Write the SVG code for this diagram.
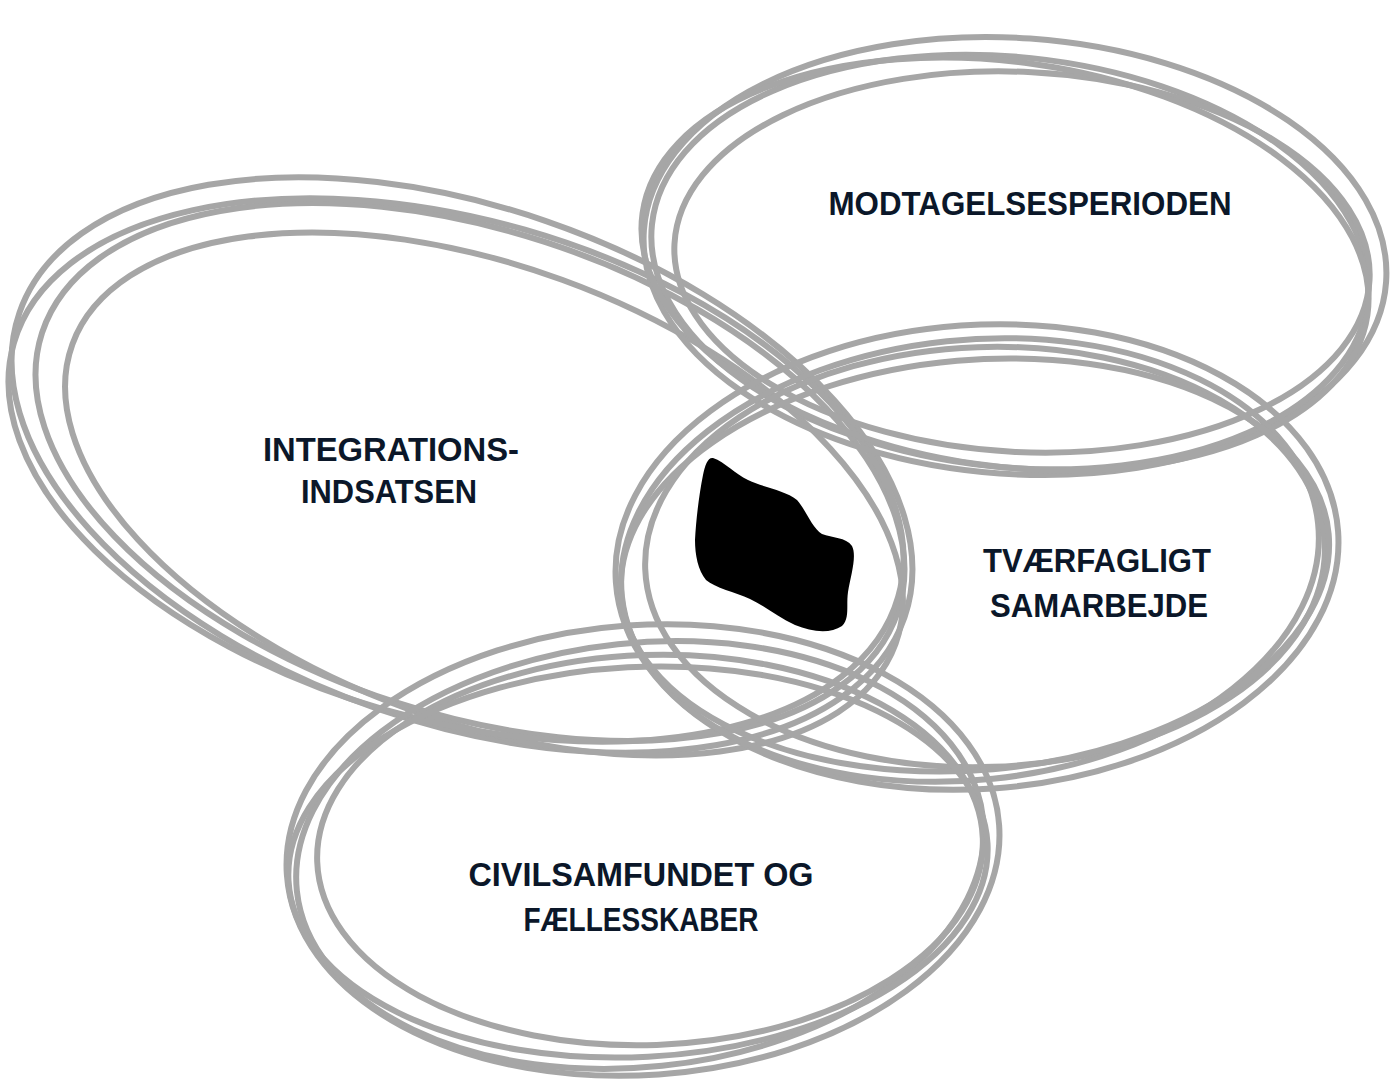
<svg xmlns="http://www.w3.org/2000/svg" width="1390" height="1085" viewBox="0 0 1390 1085">
<style>
.ring{fill:none;stroke:#a6a6a6;stroke-width:6}
.lbl{font-family:"Liberation Sans","Arial",sans-serif;font-weight:bold;font-size:34px;fill:#0b1729;text-anchor:middle}
</style>
<rect width="1390" height="1085" fill="#ffffff"/>
<g id="connectors">
<g id="rings-integration">
<ellipse class="ring" cx="462" cy="465" rx="468" ry="258" transform="rotate(19 462 465)"/>
<ellipse class="ring" cx="470" cy="472" rx="450" ry="242" transform="rotate(18 470 472)"/>
<ellipse class="ring" cx="484" cy="494" rx="438" ry="228" transform="rotate(20 484 494)"/>
<ellipse class="ring" cx="456" cy="470" rx="460" ry="250" transform="rotate(16 456 470)"/>
</g>
<g id="rings-modtagelse">
<ellipse class="ring" cx="1015" cy="256" rx="372" ry="218" transform="rotate(4 1015 256)"/>
<ellipse class="ring" cx="1010" cy="262" rx="360" ry="205" transform="rotate(6 1010 262)"/>
<ellipse class="ring" cx="1022" cy="262" rx="348" ry="190" transform="rotate(3 1022 262)"/>
<ellipse class="ring" cx="1005" cy="264" rx="366" ry="202" transform="rotate(8 1005 264)"/>
</g>
<g id="rings-tvaerfagligt">
<ellipse class="ring" cx="977" cy="557" rx="362" ry="232" transform="rotate(-4 977 557)"/>
<ellipse class="ring" cx="970" cy="560" rx="350" ry="220" transform="rotate(-6 970 560)"/>
<ellipse class="ring" cx="985" cy="557" rx="340" ry="210" transform="rotate(-2 985 557)"/>
<ellipse class="ring" cx="975" cy="565" rx="355" ry="205" transform="rotate(-5 975 565)"/>
</g>
<g id="rings-civil">
<ellipse class="ring" cx="643" cy="850" rx="357" ry="225" transform="rotate(-4 643 850)"/>
<ellipse class="ring" cx="640" cy="855" rx="345" ry="212" transform="rotate(-6 640 855)"/>
<ellipse class="ring" cx="650" cy="850" rx="333" ry="195" transform="rotate(-2 650 850)"/>
<ellipse class="ring" cx="638" cy="862" rx="350" ry="195" transform="rotate(-3 638 862)"/>
</g>
</g>
<g id="node-integration">
<text class="lbl" x="391" y="461" textLength="256" lengthAdjust="spacingAndGlyphs">INTEGRATIONS-</text>
<text class="lbl" x="389" y="503" textLength="176" lengthAdjust="spacingAndGlyphs">INDSATSEN</text>
</g>
<g id="node-modtagelse">
<text class="lbl" x="1030" y="215" textLength="403" lengthAdjust="spacingAndGlyphs">MODTAGELSESPERIODEN</text>
</g>
<g id="node-tvaerfagligt">
<text class="lbl" x="1097" y="572" textLength="228" lengthAdjust="spacingAndGlyphs">TVÆRFAGLIGT</text>
<text class="lbl" x="1099" y="617" textLength="218" lengthAdjust="spacingAndGlyphs">SAMARBEJDE</text>
</g>
<g id="node-civil">
<text class="lbl" x="641" y="886" textLength="345" lengthAdjust="spacingAndGlyphs">CIVILSAMFUNDET OG</text>
<text class="lbl" x="641" y="931" textLength="235" lengthAdjust="spacingAndGlyphs">FÆLLESSKABER</text>
</g>
<g id="node-center">
<path fill="#000000" d="M713,458 C725,462 735,474 748,480 C765,488 785,490 797,500 C806,510 812,528 822,534 C832,538 846,537 852,546 C857,556 851,575 848,592 C846,606 850,618 842,626 C830,634 812,632 795,625 C778,617 765,606 750,599 C735,592 715,588 706,580 C698,570 695,555 695,540 C696,520 699,495 703,475 C705,465 708,457 713,458 Z"/>
</g>
</svg>
